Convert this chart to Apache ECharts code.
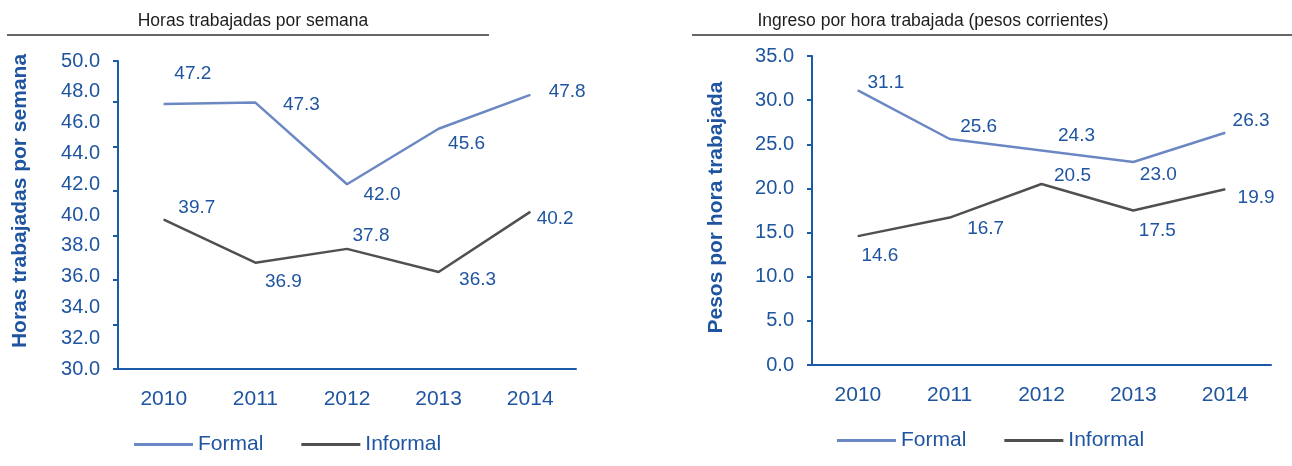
<!DOCTYPE html>
<html>
<head>
<meta charset="utf-8">
<script src="https://cdn.jsdelivr.net/npm/echarts@6/dist/echarts.min.js"></script>
<style>
  html, body { margin: 0; padding: 0; background: #fff; }
  #chart { width: 1292px; height: 466px; }
</style>
</head>
<body>
<div id="chart"></div>
<script>
// data
const years = ['2010', '2011', '2012', '2013', '2014']
const horasFormal = [47.2, 47.3, 42.0, 45.6, 47.8]
const horasInformal = [39.7, 36.9, 37.8, 36.3, 40.2]
const ingresoFormal = [31.1, 25.6, 24.3, 23.0, 26.3]
const ingresoInformal = [14.6, 16.7, 20.5, 17.5, 19.9]

// where each value label sits relative to its point (dx, dy)
const horasFormalOff = [[29, -30], [46, 2], [35, 11], [28, 15], [37, -3]]
const horasInformalOff = [[33, -12], [28, 19], [24, -13], [39, 8], [25, 7]]
const ingresoFormalOff = [[28, -8], [29, -12], [35, -15], [25, 13], [26, -12]]
const ingresoInformalOff = [[22, 20], [36, 11], [31, -8], [24, 20], [31, 8]]

const FONT = "'Liberation Sans', Arial, sans-serif"
const BLUE = '#1f55a0'
const AXIS = '#1a5aa6'
const FORMAL = '#6c88c4'
const INFORMAL = '#505050'

const chart = echarts.init(document.getElementById('chart'))

function withLabels(values, offsets) {
    return values.map((v, i) => ({
        value: v,
        label: { offset: offsets[i] },
    }))
}

function lineSeries(name, values, offsets, color, xi, yi) {
    return {
        name: name,
        type: 'line',
        xAxisIndex: xi,
        yAxisIndex: yi,
        symbol: 'circle',
        symbolSize: 1,
        showSymbol: true,
        lineStyle: { color: color, width: 2.5 },
        itemStyle: { color: color },
        label: {
            show: true,
            position: 'inside',
            color: BLUE,
            fontFamily: FONT,
            fontSize: 19,
            formatter: p => p.value.toFixed(1),
        },
        data: withLabels(values, offsets),
    }
}

function catAxis(gridIndex) {
    return {
        type: 'category',
        gridIndex: gridIndex,
        data: years,
        axisLine: { lineStyle: { color: AXIS, width: 2 } },
        axisTick: { alignWithLabel: true, length: 5, lineStyle: { color: AXIS, width: 2 } },
        axisLabel: { color: BLUE, fontFamily: FONT, fontSize: 21, margin: 20 },
    }
}

function nameStyle(shiftUp) {
    // left padding on the rotated name pushes it up the axis
    return { color: BLUE, fontFamily: FONT, fontSize: 21, fontWeight: 'bold', padding: [0, 0, 0, shiftUp * 2] }
}
const titleStyle = { fontFamily: FONT, fontSize: 17.5, fontWeight: 'normal', color: '#1e1c1d' }
const legendBase = {
    data: ['Formal', 'Informal'],
    icon: 'rect',
    padding: 0,
    itemWidth: 59, itemHeight: 3, itemGap: 38,
    textStyle: { color: BLUE, fontFamily: FONT, fontSize: 21 },
}

const option = {
    animation: false,
    title: [
        { text: 'Horas trabajadas por semana', left: 248, top: 7, textAlign: 'center', textStyle: titleStyle },
        { text: 'Ingreso por hora trabajada (pesos corrientes)', left: 928, top: 7, textAlign: 'center', textStyle: titleStyle },
    ],
    graphic: [
        { type: 'line', shape: { x1: 7, y1: 35, x2: 489, y2: 35 }, style: { stroke: '#333', lineWidth: 1.5 } },
        { type: 'line', shape: { x1: 692, y1: 35, x2: 1292, y2: 35 }, style: { stroke: '#333', lineWidth: 1.5 } },
    ],
    legend: [
        Object.assign({ left: 134, top: 434 }, legendBase),
        Object.assign({ left: 837, top: 430 }, legendBase),
    ],
    grid: [
        { left: 118, top: 61, width: 458, height: 308 },
        { left: 812, top: 56, width: 459, height: 309 },
    ],
    xAxis: [catAxis(0), catAxis(1)],
    yAxis: [
        {
            type: 'value',
            gridIndex: 0,
            min: 30, max: 50, interval: 2,
            name: 'Horas trabajadas por semana',
            nameLocation: 'middle',
            nameGap: 87,
            nameTextStyle: nameStyle(14),
            axisLine: { show: true, lineStyle: { color: AXIS, width: 2 } },
            axisTick: { show: false },
            splitLine: { show: false },
            axisLabel: { color: BLUE, fontFamily: FONT, fontSize: 20, margin: 18, formatter: v => v.toFixed(1) },
        },
        {
            // the left chart's tick marks do not sit on its labels
            type: 'value',
            gridIndex: 0,
            min: 0, max: 6.92, interval: 1,
            position: 'left',
            axisLine: { show: false },
            axisTick: { show: true, length: 5, lineStyle: { color: AXIS, width: 2 } },
            axisLabel: { show: false },
            splitLine: { show: false },
        },
        {
            type: 'value',
            gridIndex: 1,
            min: 0, max: 35, interval: 5,
            name: 'Pesos por hora trabajada',
            nameLocation: 'middle',
            nameGap: 85,
            nameTextStyle: nameStyle(3),
            axisLine: { show: true, lineStyle: { color: AXIS, width: 2 } },
            axisTick: { show: true, length: 5, lineStyle: { color: AXIS, width: 2 } },
            splitLine: { show: false },
            axisLabel: { color: BLUE, fontFamily: FONT, fontSize: 20, margin: 18, formatter: v => v.toFixed(1) },
        },
    ],
    series: [
        lineSeries('Formal', horasFormal, horasFormalOff, FORMAL, 0, 0),
        lineSeries('Informal', horasInformal, horasInformalOff, INFORMAL, 0, 0),
        lineSeries('Formal', ingresoFormal, ingresoFormalOff, FORMAL, 1, 2),
        lineSeries('Informal', ingresoInformal, ingresoInformalOff, INFORMAL, 1, 2),
    ],
}

chart.setOption(option)
</script>
</body>
</html>
